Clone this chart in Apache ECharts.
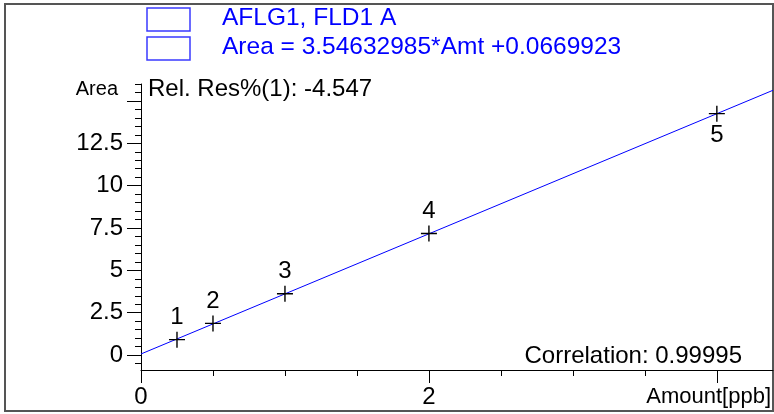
<!DOCTYPE html>
<html>
<head>
<meta charset="utf-8">
<script src="https://cdn.jsdelivr.net/npm/echarts@6/dist/echarts.min.js"></script>
<style>
html,body{margin:0;padding:0;background:#fff;}
#chart{width:774px;height:414px;}
</style>
</head>
<body>
<div id="chart"></div>
<script>
// ---- data ----
const pointLabels = ['1', '2', '3', '4', '5'];
const amounts = [0.25, 0.5, 1, 2, 4];
const areas = [0.91, 1.87, 3.62, 7.18, 14.25];
const fitAmounts = [0, 4.39];
const fitAreas = [0.067, 15.63];
const xMajorTicks = [0, 2, 4];
const xTickLabels = [0, 2];
const xMinorTicks = [0.5, 1, 1.5, 2.5, 3, 3.5];
const yMajorTicks = [0, 2.5, 5, 7.5, 10, 12.5, 15];
const yTickLabels = [0, 2.5, 5, 7.5, 10, 12.5];
const yMinorTicks = [-0.5, 0.5, 1, 1.5, 2, 3, 3.5, 4, 4.5, 5.5, 6, 6.5, 7, 8, 8.5, 9, 9.5, 10.5, 11, 11.5, 12, 13, 13.5, 14, 14.5, 15.5, 16];
const legendLines = ['AFLG1, FLD1 A', 'Area = 3.54632985*Amt +0.0669923'];
const relResText = 'Rel. Res%(1): -4.547';
const correlationText = 'Correlation: 0.99995';
const xName = 'Amount[ppb]';
const yName = 'Area';

const FONT = 'Liberation Sans';
const X_MIN = 0, X_MAX = 4.39, Y_MIN = -0.88, Y_MAX = 16;

const chart = echarts.init(document.getElementById('chart'), null, {renderer: 'canvas'});

const axisCommon = {
  type: 'value',
  splitLine: {show: false},
  axisLine: {onZero: false}
};

const option = {
  animation: false,
  backgroundColor: '#fff',
  grid: {left: 141, right: 1, top: 84, bottom: 44, containLabel: false},
  xAxis: [
    Object.assign({}, axisCommon, {
      min: X_MIN, max: X_MAX, position: 'bottom',
      axisLine: {show: true, onZero: false, lineStyle: {color: '#000', width: 1}},
      axisTick: {show: true, length: 13, customValues: xMajorTicks, lineStyle: {color: '#000', width: 1}},
      axisLabel: {show: true, customValues: xTickLabels, margin: 15, color: '#000', fontSize: 24, fontFamily: FONT}
    }),
    Object.assign({}, axisCommon, {
      min: X_MIN, max: X_MAX, position: 'bottom',
      axisLine: {show: false, onZero: false},
      axisTick: {show: true, length: 6, customValues: xMinorTicks, lineStyle: {color: '#000', width: 1}},
      axisLabel: {show: false}
    })
  ],
  yAxis: [
    Object.assign({}, axisCommon, {
      min: Y_MIN, max: Y_MAX, position: 'left',
      axisLine: {show: true, onZero: false, lineStyle: {color: '#000', width: 1}},
      axisTick: {show: true, length: 14, customValues: yMajorTicks, lineStyle: {color: '#000', width: 1}},
      axisLabel: {show: true, customValues: yTickLabels, margin: 18, color: '#000', fontSize: 24, fontFamily: FONT}
    }),
    Object.assign({}, axisCommon, {
      min: Y_MIN, max: Y_MAX, position: 'left',
      axisLine: {show: false, onZero: false},
      axisTick: {show: true, length: 6, customValues: yMinorTicks, lineStyle: {color: '#000', width: 1}},
      axisLabel: {show: false}
    })
  ],
  series: [
    {
      type: 'line',
      xAxisIndex: 0, yAxisIndex: 0,
      data: fitAmounts.map((x, i) => [x, fitAreas[i]]),
      showSymbol: false,
      symbol: 'none',
      lineStyle: {color: '#0000ff', width: 1},
      z: 2,
      silent: true
    },
    {
      type: 'scatter',
      xAxisIndex: 0, yAxisIndex: 0,
      symbol: 'path://M0,7.3H16V8.7H0Z M7.3,0H8.7V16H7.3Z',
      symbolSize: 16,
      itemStyle: {color: '#000', opacity: 1},
      data: amounts.map((x, i) => {
        const item = {value: [x, areas[i]], name: pointLabels[i]};
        if (i === amounts.length - 1) item.label = {position: 'bottom'};
        return item;
      }),
      label: {
        show: true, position: 'top', distance: 2,
        formatter: p => p.name,
        color: '#000', opacity: 1, fontSize: 24, fontFamily: FONT
      },
      z: 3
    }
  ],
  graphic: [
    {type: 'rect', shape: {x: 5, y: 4, width: 768, height: 407}, style: {fill: 'none', stroke: '#555', lineWidth: 2}, z: 0, silent: true},
    {type: 'rect', shape: {x: 147, y: 8, width: 43, height: 23}, style: {fill: '#fff', stroke: '#3a3aff', lineWidth: 1.5}},
    {type: 'rect', shape: {x: 147, y: 37, width: 43, height: 23}, style: {fill: '#fff', stroke: '#3a3aff', lineWidth: 1.5}},
    {type: 'text', x: 222, y: 18, style: {text: legendLines[0], fill: '#0000ff', font: '24.5px "' + FONT + '"', textVerticalAlign: 'middle'}},
    {type: 'text', x: 222, y: 47, style: {text: legendLines[1], fill: '#0000ff', font: '24.5px "' + FONT + '"', textVerticalAlign: 'middle'}},
    {type: 'text', x: 148, y: 89, style: {text: relResText, fill: '#000', font: '24px "' + FONT + '"', textVerticalAlign: 'middle'}},
    {type: 'text', x: 118, y: 89, style: {text: yName, fill: '#000', font: '20px "' + FONT + '"', textAlign: 'right', textVerticalAlign: 'middle'}},
    {type: 'text', x: 742, y: 356, style: {text: correlationText, fill: '#000', font: '24px "' + FONT + '"', textAlign: 'right', textVerticalAlign: 'middle'}},
    {type: 'text', x: 771, y: 397, style: {text: xName, fill: '#000', font: '22px "' + FONT + '"', textAlign: 'right', textVerticalAlign: 'middle'}}
  ]
};

chart.setOption(option);
</script>
</body>
</html>
